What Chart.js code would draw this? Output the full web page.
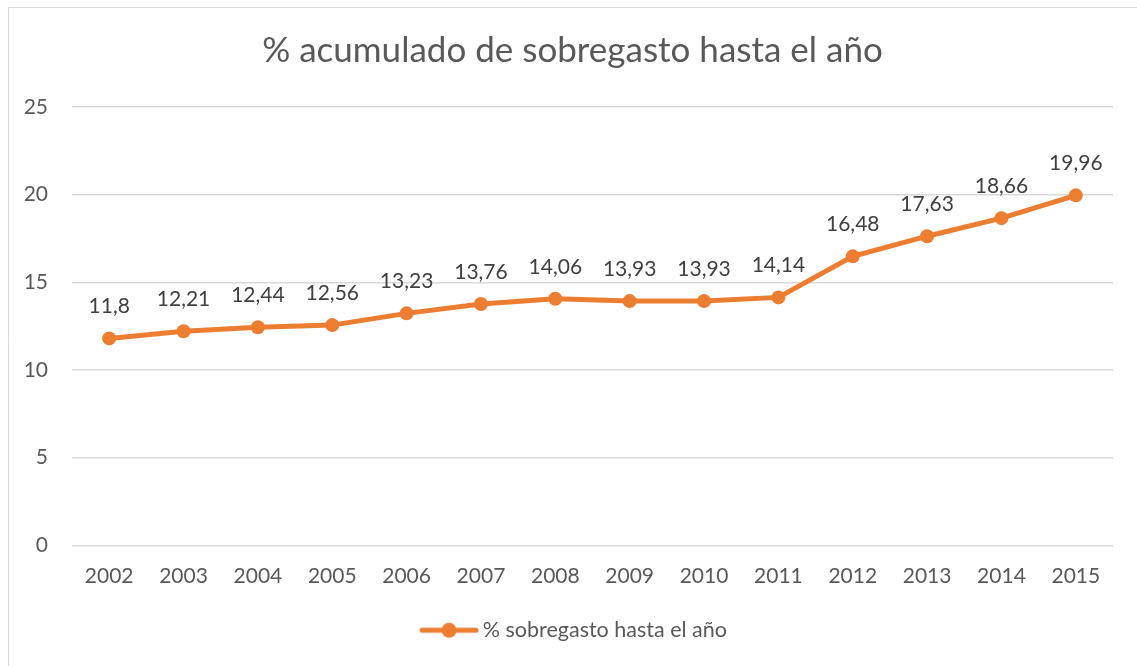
<!DOCTYPE html>
<html>
<head>
<meta charset="utf-8">
<script src="https://cdn.jsdelivr.net/npm/chart.js@4.4.1/dist/chart.umd.min.js"></script>
<style>
  html, body { margin: 0; padding: 0; background: #fff; }
  #wrap { width: 1137px; height: 666px; position: relative; }
</style>
</head>
<body>
<div id="wrap"><canvas id="chart" width="1137" height="666"></canvas></div>
<script>
// ----------------- Data -----------------
const years = ['2002', '2003', '2004', '2005', '2006', '2007', '2008',
               '2009', '2010', '2011', '2012', '2013', '2014', '2015'];
const overspend = [11.8, 12.21, 12.44, 12.56, 13.23, 13.76, 14.06,
                   13.93, 13.93, 14.14, 16.48, 17.63, 18.66, 19.96];
const seriesName = '% sobregasto hasta el año';
const chartTitle = '% acumulado de sobregasto hasta el año';

const orange = '#ED7D31';
const fontFamily = 'Lato, "Open Sans", sans-serif';

// legend marker: line with a dot in the middle
const marker = document.createElement('canvas');
marker.width = 60; marker.height = 18;
const mctx = marker.getContext('2d');
mctx.strokeStyle = orange; mctx.lineWidth = 5; mctx.lineCap = 'round';
mctx.beginPath(); mctx.moveTo(3, 9); mctx.lineTo(57, 9); mctx.stroke();
mctx.fillStyle = orange;
mctx.beginPath(); mctx.arc(30, 9, 7.5, 0, Math.PI * 2); mctx.fill();

// value labels above each point
const valueLabels = {
  id: 'valueLabels',
  afterDatasetsDraw(chart) {
    const ctx = chart.ctx;
    const meta = chart.getDatasetMeta(0);
    ctx.save();
    ctx.font = '21px ' + fontFamily;
    ctx.fillStyle = '#404040';
    ctx.textAlign = 'center';
    ctx.textBaseline = 'alphabetic';
    meta.data.forEach((pt, i) => {
      const txt = String(overspend[i]).replace('.', ',');
      ctx.fillText(txt, pt.x, pt.y - 25);
    });
    ctx.restore();
  }
};

// thin frame on left/top, and nudge title/legend to the centre of the frame
const frame = {
  id: 'frame',
  afterLayout(chart) {
    chart.legend.left += 10; chart.legend.right += 10;
    chart.titleBlock.left += 6; chart.titleBlock.right += 6;
  },
  beforeDraw(chart) {
    const ctx = chart.ctx;
    ctx.save();
    ctx.fillStyle = '#fff';
    ctx.fillRect(0, 0, chart.width, chart.height);
    ctx.strokeStyle = '#d9d9d9';
    ctx.lineWidth = 1;
    ctx.beginPath();
    ctx.moveTo(8.5, chart.height);
    ctx.lineTo(8.5, 7.5);
    ctx.lineTo(chart.width, 7.5);
    ctx.stroke();
    ctx.restore();
  }
};

new Chart(document.getElementById('chart').getContext('2d'), {
  type: 'line',
  data: {
    labels: years,
    datasets: [{
      label: seriesName,
      data: overspend,
      borderColor: orange,
      backgroundColor: orange,
      borderWidth: 5,
      pointRadius: 7,
      pointHoverRadius: 7,
      pointBackgroundColor: orange,
      pointBorderWidth: 0,
      tension: 0
    }]
  },
  options: {
    responsive: false,
    animation: false,
    layout: { padding: { left: 20, right: 24, top: 20, bottom: 15 } },
    plugins: {
      title: {
        display: true,
        text: chartTitle,
        color: '#595959',
        font: { family: fontFamily, size: 35, weight: 'normal' },
        padding: { top: 10, bottom: 35 }
      },
      legend: {
        position: 'bottom',
        labels: {
          usePointStyle: true,
          pointStyle: marker,
          pointStyleWidth: 46,
          color: '#595959',
          font: { family: fontFamily, size: 21.5 },
          padding: 13
        }
      },
      tooltip: { enabled: false }
    },
    scales: {
      x: {
        offset: true,
        grid: { display: false, drawTicks: false },
        border: { display: false },
        ticks: {
          color: '#595959',
          font: { family: fontFamily, size: 21 },
          padding: 18,
          maxRotation: 0
        }
      },
      y: {
        min: 0,
        max: 25,
        afterFit(scale) { scale.width = 52; },
        grid: { color: '#d9d9d9', lineWidth: 1.5, drawTicks: false },
        border: { display: false },
        ticks: {
          stepSize: 5,
          color: '#595959',
          font: { family: fontFamily, size: 21 },
          padding: 24
        }
      }
    }
  },
  plugins: [frame, valueLabels]
});
</script>
</body>
</html>
